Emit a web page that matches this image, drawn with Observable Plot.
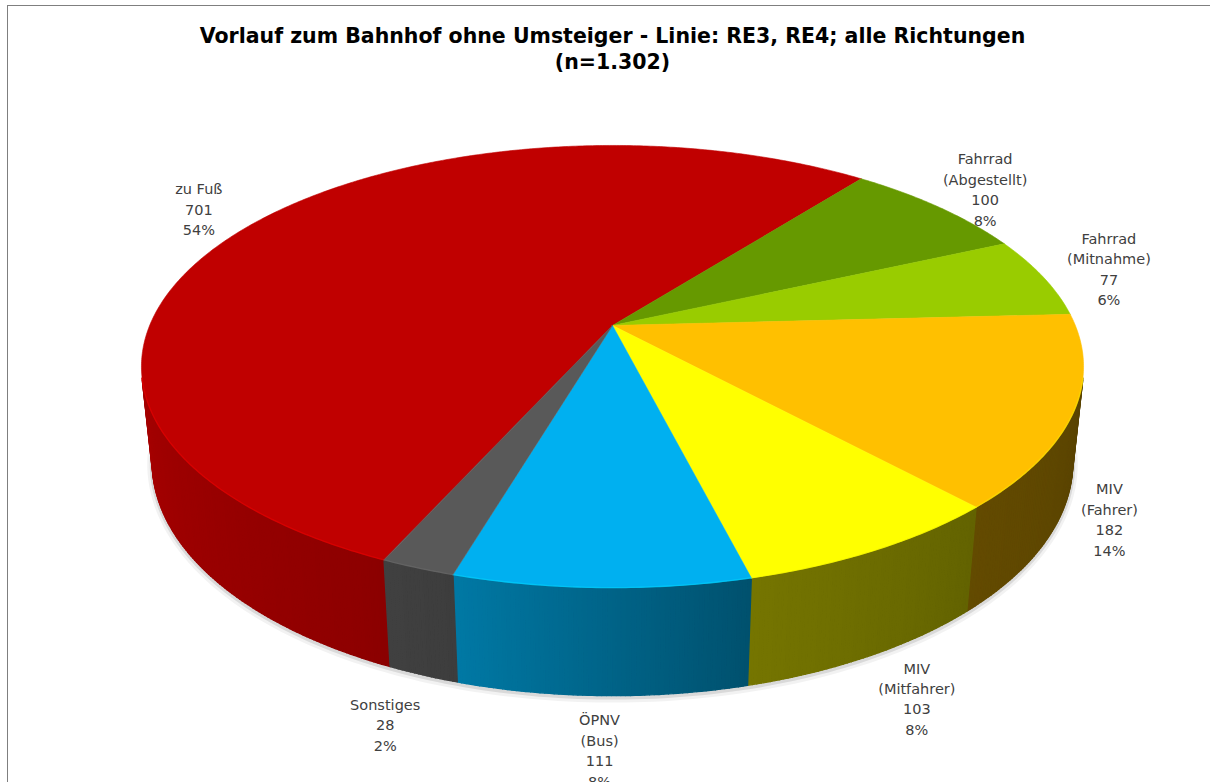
<!DOCTYPE html>
<html><head><meta charset="utf-8">
<script src="https://cdn.jsdelivr.net/npm/d3@7"></script>
<script src="https://cdn.jsdelivr.net/npm/@observablehq/plot@0.6"></script>
<style>
body{margin:0;background:#fff}
#wrap{position:relative;width:1210px;height:782px;overflow:hidden;background:#fff}
#chart{position:absolute;left:0;top:0}
#frame{position:absolute;left:7px;top:5px;width:1400px;height:1000px;border:1px solid #7f7f7f;box-shadow:1px 1px 0 #c8c8c8;pointer-events:none}
</style></head><body><div id="wrap"><div id="chart"></div><div id="frame"></div></div>
<script>
// ---- data ----
const categories = ["zu Fuß","Fahrrad (Abgestellt)","Fahrrad (Mitnahme)","MIV (Fahrer)","MIV (Mitfahrer)","ÖPNV (Bus)","Sonstiges"];
const labelNames = [["zu Fuß"],["Fahrrad","(Abgestellt)"],["Fahrrad","(Mitnahme)"],["MIV","(Fahrer)"],["MIV","(Mitfahrer)"],["ÖPNV","(Bus)"],["Sonstiges"]];
const counts = [701,100,77,182,103,111,28];
const percentLabels = ["54%","8%","6%","14%","8%","8%","2%"];
const sliceColors = ["#C00000","#669900","#99CC00","#FFC000","#FFFF00","#00B0F0","#595959"];
const titleLines = ["Vorlauf zum Bahnhof ohne Umsteiger - Linie: RE3, RE4; alle Richtungen","(n=1.302)"];

// ---- 3D perspective geometry ----
const W=1210,H=782;
const cx=612, cy=325, F=2212, D=4.779, sinE=0.4612, cosE=0.8873, h=0.2345;
const startDeg=114.2;
const total=d3.sum(counts);
const rad=Math.PI/180;
function proj(r,tDeg,yw){const t=tDeg*rad;const px=r*Math.cos(t),pz=r*Math.sin(t);const yc=yw*cosE-pz*sinE;const depth=D-yw*sinE-pz*cosE;return {u:px/depth,v:yc/depth};}

let cum=0;
const slices=categories.map((c,i)=>{const a0=startDeg+cum/total*360;cum+=counts[i];const a1=startDeg+cum/total*360;return {c,i,a0,a1};});

const topPts=[];
slices.forEach(s=>{topPts.push({id:s.c,col:sliceColors[s.i],...proj(0,0,0)});const n=Math.ceil((s.a1-s.a0)/0.5);for(let k=0;k<=n;k++){const t=s.a0+(s.a1-s.a0)*k/n;topPts.push({id:s.c,col:sliceColors[s.i],...proj(1,t,0)});}});

const tv0=Math.asin(1/(D*cosE))/rad, tv1=180-tv0;
const shade=d3.scaleLinear().domain([13.6,48,76,107,118,166.4]).range([0.35,0.39,0.46,0.69,0.74,0.86]).clamp(true);
const wallPts=[],rimPts=[];let q=0;
slices.forEach(s=>{for(const off of [-360,0,360]){const lo=Math.max(s.a0,tv0+off),hi=Math.min(s.a1,tv1+off);if(hi<=lo)continue;const n=Math.ceil((hi-lo)/0.5);const base=d3.rgb(sliceColors[s.i]);
  for(let k=0;k<n;k++){const t1=lo+(hi-lo)*k/n,t2=lo+(hi-lo)*(k+1)/n;const f=shade((t1+t2)/2-off);const col=d3.rgb(base.r*f,base.g*f,base.b*f).formatHex();const id=q++;
    [proj(1,t1,0),proj(1,t2,0),proj(1,t2,-h),proj(1,t1,-h)].forEach(p=>wallPts.push({id,col,...p}));}
  const rid="r"+s.i+"_"+off;const rc=base.brighter(0.5).formatHex();
  for(let k=0;k<=n;k++){const t=lo+(hi-lo)*k/n;rimPts.push({id:rid,col:rc,...proj(1,t,0)});}
}});
const shadowPts=d3.range(tv0-6,tv1+6.1,1).map(t=>proj(1,t,-h));

const labels=slices.map(s=>{const mid=(s.a0+s.a1)/2;const front=Math.sin(mid*rad)>0;const c=Math.max(0,Math.cos(mid*rad));const r=front?1.16-0.08*c*c*c:1.16;const p=proj(r,mid,front?-h:0);return {...p,text:[...labelNames[s.i],String(counts[s.i]),percentLabels[s.i]].join("\n")};});

const chart=Plot.plot({
  width:W,height:H,margin:0,
  style:{background:"transparent"},
  x:{domain:[-cx/F,(W-cx)/F],range:[0,W],axis:null},
  y:{domain:[cy/F,(cy-H)/F],range:[0,H],axis:null},
  color:{type:"identity"},
  marks:[
    Plot.line(shadowPts,{x:"u",y:"v",stroke:"#000",strokeOpacity:0.05,strokeWidth:10,dy:2}),
    Plot.line(shadowPts,{x:"u",y:"v",stroke:"#000",strokeOpacity:0.10,strokeWidth:5,dy:1.5}),
    Plot.line(wallPts,{x:"u",y:"v",z:"id",fill:"col",stroke:"col",strokeWidth:1.4,curve:"linear-closed"}),
    Plot.line(topPts,{x:"u",y:"v",z:"id",fill:"col",stroke:"col",strokeWidth:0.6,curve:"linear-closed"}),
    Plot.line(rimPts,{x:"u",y:"v",z:"id",stroke:"col",strokeWidth:1.3,strokeOpacity:0.7}),
    Plot.text(labels,{x:"u",y:"v",text:"text",fill:"#404040",fontSize:14.5,lineHeight:1.41,fontFamily:"DejaVu Sans",textAnchor:"middle",lineAnchor:"middle",dy:-2}),
    Plot.text([titleLines.join("\n")],{frameAnchor:"top",dx:7,dy:47,lineAnchor:"middle",fontSize:20.5,fontWeight:"bold",fontFamily:"DejaVu Sans",lineHeight:1.27,fill:"#000"})
  ]
});
document.getElementById("chart").appendChild(chart);
</script></body></html>
